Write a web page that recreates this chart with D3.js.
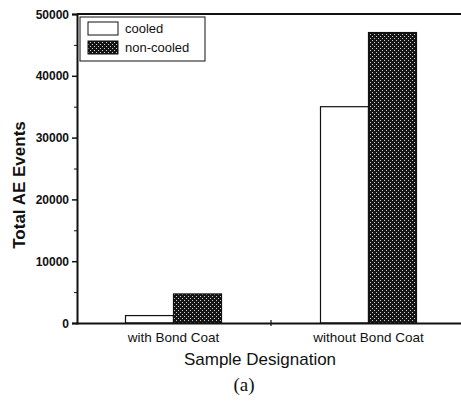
<!DOCTYPE html>
<html>
<head>
<meta charset="utf-8">
<script src="https://cdn.jsdelivr.net/npm/d3@7"></script>
<style>
  html, body { margin: 0; padding: 0; background: #fff; }
  svg { display: block; }
</style>
</head>
<body>
<svg id="chart" width="461" height="403"></svg>
<script>
const categories = ["with Bond Coat", "without Bond Coat"];
const seriesNames = ["cooled", "non-cooled"];
const cooledValues = [1200, 35000];
const nonCooledValues = [4700, 47000];
const yTicks = [0, 10000, 20000, 30000, 40000, 50000];
const yMinorTicks = [5000, 15000, 25000, 35000, 45000];

const svg = d3.select("#chart");
const ink = "#111";
const plotLeft = 77, plotRight = 466, plotTop = 14, plotBottom = 323;

// pattern for non-cooled
const defs = svg.append("defs");
const pat = defs.append("pattern").attr("id", "dots")
  .attr("patternUnits", "userSpaceOnUse").attr("width", 4).attr("height", 4);
pat.append("rect").attr("width", 4).attr("height", 4).attr("fill", "#151515");
pat.append("rect").attr("x", 0).attr("y", 0).attr("width", 1).attr("height", 1).attr("fill", "#d0d0d0");
pat.append("rect").attr("x", 2).attr("y", 2).attr("width", 1).attr("height", 1).attr("fill", "#d0d0d0");

const x = d3.scaleBand().domain(categories).range([plotLeft - 1, plotRight]).paddingInner(0).paddingOuter(0);
const xs = d3.scaleBand().domain(seriesNames).range([0, 96]);
const y = d3.scaleLinear().domain([0, 50000]).range([plotBottom, plotTop]);

const data = categories.map((c, i) => ({
  cat: c,
  vals: [
    { s: "cooled", v: cooledValues[i] },
    { s: "non-cooled", v: nonCooledValues[i] }
  ]
}));

// bars
const g = svg.append("g");
data.forEach(d => {
  const cx = x(d.cat) + x.bandwidth() / 2 - 48;
  d.vals.forEach(b => {
    g.append("rect")
      .attr("x", cx + xs(b.s))
      .attr("y", y(b.v))
      .attr("width", xs.bandwidth())
      .attr("height", y(0) - y(b.v))
      .attr("fill", b.s === "cooled" ? "#fff" : "url(#dots)")
      .attr("stroke", ink)
      .attr("stroke-width", 1.2);
  });
});

// y axis
const yAxis = d3.axisLeft(y).tickValues(yTicks).tickSize(5).tickPadding(3).tickFormat(d3.format("d"));
const ya = svg.append("g").attr("transform", `translate(${plotLeft},0)`).call(yAxis);
ya.select(".domain").attr("stroke", ink).attr("stroke-width", 2);
ya.selectAll(".tick line").attr("stroke", ink).attr("stroke-width", 1.5);
ya.selectAll(".tick text").attr("font-family", "Liberation Sans, Arial, sans-serif")
  .attr("font-size", 12).attr("font-weight", "bold").attr("fill", ink).attr("dy", "0.34em");
const yMinor = d3.axisLeft(y).tickValues(yMinorTicks).tickSize(3).tickFormat("");
const ym = svg.append("g").attr("transform", `translate(${plotLeft},0)`).call(yMinor);
ym.select(".domain").remove();
ym.selectAll(".tick line").attr("stroke", ink).attr("stroke-width", 1);

// x axis
const xAxis = d3.axisBottom(x).tickSize(0).tickPadding(9);
const xa = svg.append("g").attr("transform", `translate(0,${plotBottom})`).call(xAxis);
xa.select(".domain").attr("stroke", ink).attr("stroke-width", 2);
xa.selectAll(".tick text").attr("font-family", "Liberation Sans, Arial, sans-serif")
  .attr("font-size", 13.5).attr("fill", ink);
// boundary ticks between categories
const bnd = [x.range()[0] + x.bandwidth()];
svg.append("g").selectAll("line").data(bnd).join("line")
  .attr("x1", d => d).attr("x2", d => d)
  .attr("y1", plotBottom - 3).attr("y2", plotBottom + 3)
  .attr("stroke", ink).attr("stroke-width", 1.2);

// top frame line
svg.append("line").attr("x1", plotLeft).attr("x2", 461).attr("y1", plotTop).attr("y2", plotTop)
  .attr("stroke", ink).attr("stroke-width", 2);

// legend
const lg = svg.append("g");
lg.append("rect").attr("x", 80).attr("y", 17).attr("width", 125).attr("height", 44)
  .attr("fill", "#fff").attr("stroke", ink).attr("stroke-width", 1);
seriesNames.forEach((s, i) => {
  lg.append("rect").attr("x", 88).attr("y", 22 + i * 19).attr("width", 30).attr("height", 13)
    .attr("fill", s === "cooled" ? "#fff" : "url(#dots)").attr("stroke", ink).attr("stroke-width", 1);
  lg.append("text").attr("x", 125).attr("y", 33 + i * 19).text(s)
    .attr("font-family", "Liberation Sans, Arial, sans-serif").attr("font-size", 13).attr("fill", ink);
});

// axis titles
svg.append("text").attr("transform", "translate(25,185) rotate(-90)")
  .attr("text-anchor", "middle").attr("font-family", "Liberation Sans, Arial, sans-serif")
  .attr("font-size", 17).attr("font-weight", "bold").attr("fill", ink).text("Total AE Events");
svg.append("text").attr("x", 260).attr("y", 365).attr("text-anchor", "middle")
  .attr("font-family", "Liberation Sans, Arial, sans-serif").attr("font-size", 17).attr("fill", ink)
  .text("Sample Designation");
svg.append("text").attr("x", 244).attr("y", 391).attr("text-anchor", "middle")
  .attr("font-family", "Liberation Serif, Times New Roman, serif").attr("font-size", 19).attr("fill", ink)
  .text("(a)");
</script>
</body>
</html>
